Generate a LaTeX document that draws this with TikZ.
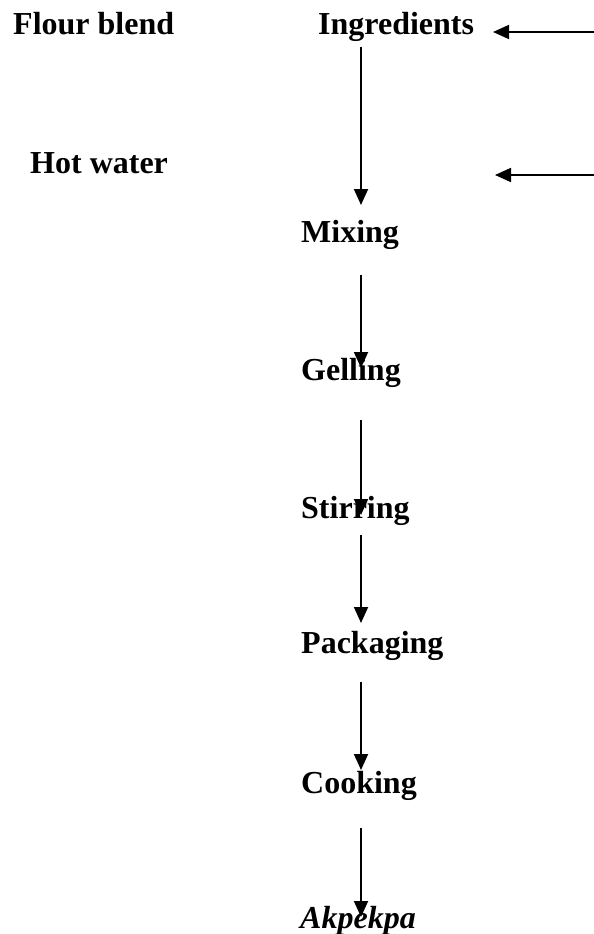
\documentclass[tikz,border=0pt]{standalone}
\usepackage{fontspec}
\setmainfont{Liberation Serif}
\usetikzlibrary{arrows.meta}
\begin{document}
\begin{tikzpicture}[x=1pt,y=-1pt,
  lbl/.style={anchor=base west,inner sep=0pt,font=\fontsize{32}{38}\selectfont\bfseries},
  flow/.style={line width=1.8pt,-{Triangle[length=16pt,width=14pt]}}]
\useasboundingbox (0,0) rectangle (594,934);
\node[lbl] (flour) at (13,35) {Flour blend};
\node[lbl] (hot) at (30,173) {Hot water};
\node[lbl] (ingr) at (318,35) {Ingredients};
\node[lbl] (mix) at (301,242) {Mixing};
\node[lbl] (gel) at (301,380) {Gelling};
\node[lbl] (stir) at (301,518) {Stirring};
\node[lbl] (pack) at (301,653) {Packaging};
\node[lbl] (cook) at (301,793) {Cooking};
\node[lbl] (akp) at (300,928) {\textit{Akpekpa}};
% arrow end points
\coordinate (r1s) at (594,32);
\coordinate (r1e) at (493,32);
\coordinate (r2s) at (594,175);
\coordinate (r2e) at (495,175);
\coordinate (a1s) at (361,47);  \coordinate (a1e) at (361,205);
\coordinate (a2s) at (361,275); \coordinate (a2e) at (361,368);
\coordinate (a3s) at (361,420); \coordinate (a3e) at (361,515);
\coordinate (a4s) at (361,535); \coordinate (a4e) at (361,623);
\coordinate (a5s) at (361,682); \coordinate (a5e) at (361,770);
\coordinate (a6s) at (361,828); \coordinate (a6e) at (361,917);
\draw[flow] (r1s) -- (r1e);
\draw[flow] (r2s) -- (r2e);
\draw[flow] (a1s) -- (a1e);
\draw[flow] (a2s) -- (a2e);
\draw[flow] (a3s) -- (a3e);
\draw[flow] (a4s) -- (a4e);
\draw[flow] (a5s) -- (a5e);
\draw[flow] (a6s) -- (a6e);
\end{tikzpicture}
\end{document}
